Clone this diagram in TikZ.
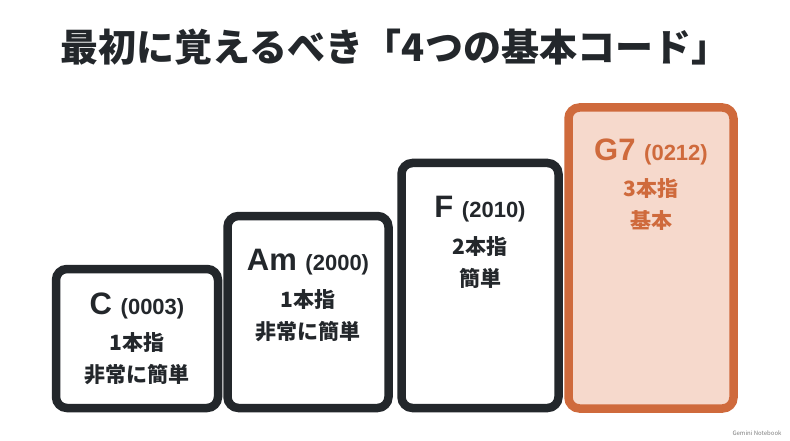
\documentclass[tikz,border=0pt]{standalone}
\usepackage{fontspec}
\setmainfont{Noto Sans CJK JP}
\newfontfamily\lat{Liberation Sans}
\definecolor{dk}{HTML}{23272B}
\definecolor{og}{HTML}{CF6A3C}
\definecolor{pf}{HTML}{F6D9CC}
\begin{document}
\begin{tikzpicture}[x=1pt,y=-1pt,
  box/.style={draw=dk,fill=white,line width=8.5pt,rounded corners=11pt,inner sep=0pt},
  hl/.style={box,draw=og,fill=pf},
  chord/.style={font=\lat\bfseries\fontsize{31}{33}\selectfont,text=dk},
  sub/.style={font=\bfseries\fontsize{21}{32}\selectfont,text=dk,align=center}]
\useasboundingbox[fill=white] (0,0) rectangle (790,441);
\node[font=\bfseries\fontsize{38}{42}\selectfont,text=dk] (title) at (395,47) {最初に覚えるべき「4つの基本コード」};
\node[box,minimum width=162pt,minimum height=139pt] (b1) at (137,338.5) {};
\node[box,minimum width=161pt,minimum height=192pt] (b2) at (308,312) {};
\node[box,minimum width=157pt,minimum height=245pt] (b3) at (480,285.5) {};
\node[hl,minimum width=165pt,minimum height=301pt] (b4) at (651,258) {};
\node[chord] (c1) at (137,306) {C {\fontsize{22}{24}\selectfont(0003)}};
\node[sub] (s1) at (137,359) {1本指\\非常に簡単};
\node[chord] (c2) at (308,262) {Am {\fontsize{22}{24}\selectfont(2000)}};
\node[sub] (s2) at (308,316) {1本指\\非常に簡単};
\node[chord] (c3) at (480,209) {F {\fontsize{22}{24}\selectfont(2010)}};
\node[sub] (s3) at (480,263) {2本指\\簡単};
\node[chord,text=og] (c4) at (651,152) {G7 {\fontsize{22}{24}\selectfont(0212)}};
\node[sub,text=og] (s4) at (651,205) {3本指\\基本};
\node[font=\fontsize{6}{7}\selectfont,text=gray] (wm) at (757,433) {Gemini Notebook};
\end{tikzpicture}
\end{document}
